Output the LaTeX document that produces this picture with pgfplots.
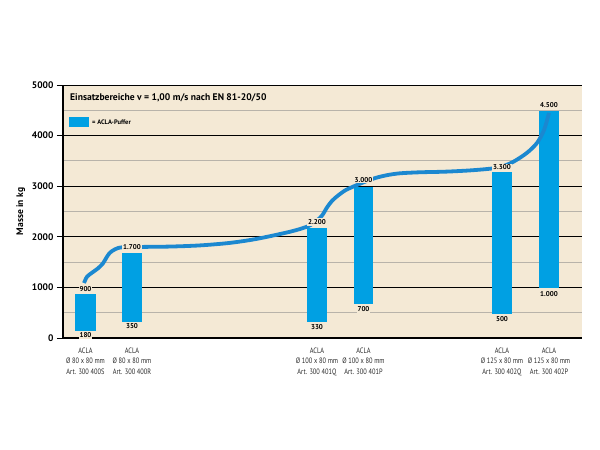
\documentclass[border=0pt]{standalone}
\usepackage{pgfplots}
\pgfplotsset{compat=1.18}
\usepackage{fontspec}
\setmainfont{PT Sans}
\newfontfamily\condfont[FakeStretch=0.82]{PT Sans}
\definecolor{bg}{HTML}{F4E9D5}
\definecolor{barc}{HTML}{00A0E3}
\definecolor{curvec}{HTML}{1B88D0}
\definecolor{gridgray}{HTML}{B8B3AA}
\definecolor{xlab}{HTML}{2A2A2A}
\begin{document}
\begin{tikzpicture}
\path[use as bounding box] (-63pt,-112pt) rectangle (537pt,338pt);
\begin{axis}[
  at={(0pt,0pt)}, anchor=south west,
  scale only axis, width=519pt, height=253pt,
  xmin=63, xmax=582, ymin=0, ymax=5000,
  axis background/.style={fill=bg},
  axis x line=bottom, axis y line=left,
  axis line style={-, line width=1.2pt, black},
  ytick={0,1000,2000,3000,4000,5000},
  minor ytick={500,1500,2500,3500,4500},
  ymajorgrids, yminorgrids,
  major grid style={black, line width=0.9pt},
  minor grid style={gridgray, line width=0.9pt},
  tick align=outside,
  major tick length=6pt, minor tick length=0pt,
  ytick style={black, line width=0.9pt},
  xtick style={draw=none},
  yticklabel style={font=\bfseries\fontsize{9.5}{10}\selectfont, /pgf/number format/assume math mode=true, /pgf/number format/1000 sep={}},
  xtick={85.5,132,317,363.5,502,549},
  xticklabels={{ACLA\\Ø 80 x 80 mm\\Art. 300 400S},{ACLA\\Ø 80 x 80 mm\\Art. 300 400R},{ACLA\\Ø 100 x 80 mm\\Art. 300 401Q},{ACLA\\Ø 100 x 80 mm\\Art. 300 401P},{ACLA\\Ø 125 x 80 mm\\Art. 300 402Q},{ACLA\\Ø 125 x 80 mm\\Art. 300 402P}},
  xticklabel style={align=center, font=\condfont\fontsize{7.8}{10.8}\selectfont, text=xlab, yshift=0pt},
  ylabel={Masse in kg},
  ylabel style={font=\bfseries\fontsize{9.5}{10}\selectfont, yshift=0pt},
  clip=false,
]
% bars (low, high)
\addplot[fill=barc, draw=none] coordinates {(75,140) (96,140) (96,870) (75,870)} --cycle;
\addplot[fill=barc, draw=none] coordinates {(122,316) (142,316) (142,1680) (122,1680)} --cycle;
\addplot[fill=barc, draw=none] coordinates {(307,316) (327,316) (327,2170) (307,2170)} --cycle;
\addplot[fill=barc, draw=none] coordinates {(354,670) (373,670) (373,2980) (354,2980)} --cycle;
\addplot[fill=barc, draw=none] coordinates {(492,470) (512,470) (512,3280) (492,3280)} --cycle;
\addplot[fill=barc, draw=none] coordinates {(539,990) (559,990) (559,4490) (539,4490)} --cycle;
% curve
\addplot[curvec, line width=3.8pt, smooth, tension=0.5] coordinates {
 (84,1087) (87,1211) (92,1290) (98,1377) (103,1476) (107,1607) (110,1686) (115,1753) (122,1792)
 (142,1800) (170,1807) (200,1830) (230,1880) (257,1960) (290,2100) (307,2200) (315,2290)
 (322,2420) (327,2580) (332,2710) (338,2815) (345,2915) (353,2990) (364,3080)
 (375,3160) (387,3218) (400,3255) (420,3275) (445,3287) (470,3312) (492,3350) (503,3395)
 (514,3490) (527,3660) (537,3855) (544,4110) (549,4447)
};
% legend swatch
\addplot[fill=barc, draw=none] coordinates {(69,4170) (89,4170) (89,4368) (69,4368)} --cycle;
\node[anchor=west, font=\bfseries\fontsize{6.5}{7}\selectfont, inner sep=0pt] at (axis cs:92,4270) {= ACLA-Puffer};
\node[anchor=west, font=\bfseries\fontsize{9.6}{10}\selectfont, inner sep=0pt] at (axis cs:70,4745) {Einsatzbereiche v = 1,00 m/s nach EN 81-20/50};
% value labels
\tikzset{vl/.style={fill=bg, inner sep=1pt, font=\bfseries\fontsize{7}{7}\selectfont}}
\node[vl] at (axis cs:85.5,968) {900};
\node[vl] at (axis cs:85.5,60) {180};
\node[vl] at (axis cs:132,1798) {1.700};
\node[vl] at (axis cs:132,237) {350};
\node[vl] at (axis cs:317,2292) {2.200};
\node[vl] at (axis cs:317,217) {330};
\node[vl] at (axis cs:363.5,3130) {3.000};
\node[vl] at (axis cs:363.5,573) {700};
\node[vl] at (axis cs:502,3370) {3.300};
\node[vl] at (axis cs:502,375) {500};
\node[vl] at (axis cs:549,4605) {4.500};
\node[vl] at (axis cs:549,870) {1.000};
\end{axis}
\end{tikzpicture}
\end{document}
